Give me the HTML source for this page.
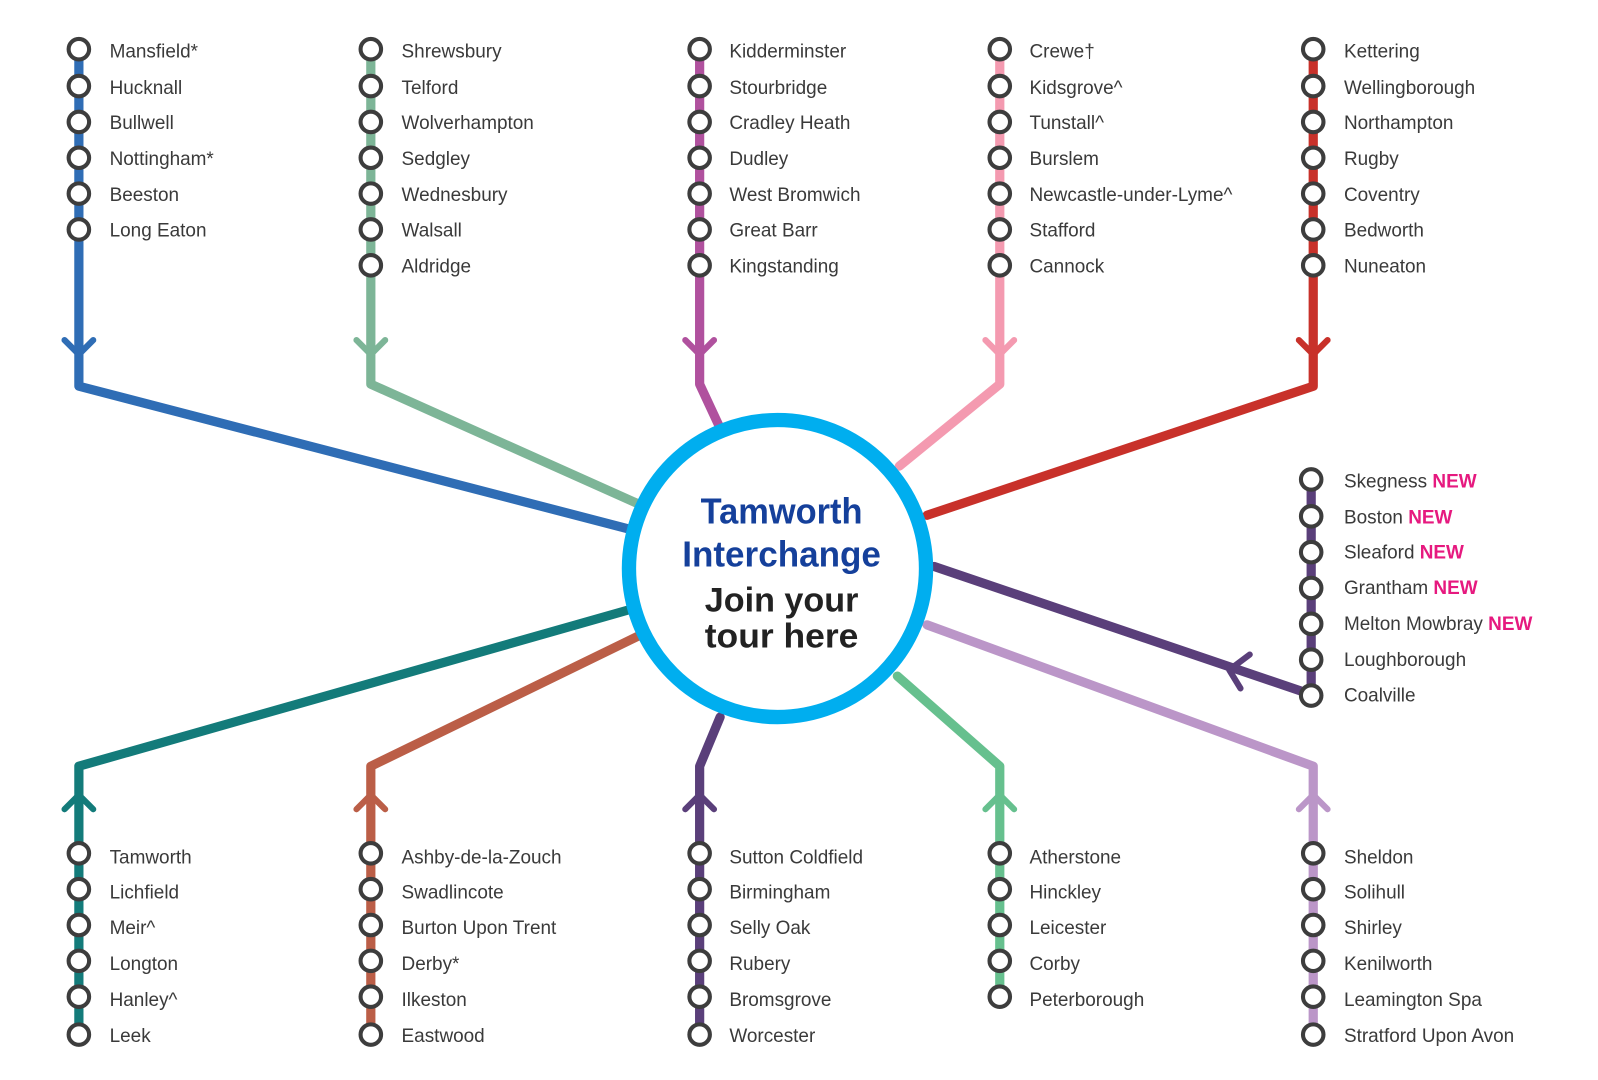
<!DOCTYPE html>
<html><head><meta charset="utf-8"><style>
html,body{margin:0;padding:0;background:#fff;}
svg{display:block;}
text{font-family:"Liberation Sans",sans-serif;}
.st{font-size:18.5px;fill:#3a3a3a;}
.n{fill:#e6197f;font-weight:bold;}
</style></head><body>
<svg width="1598" height="1080" viewBox="0 0 1560 1054.3" xmlns="http://www.w3.org/2000/svg">
<defs>
<g id="c7">
<circle cx="0" cy="48" r="10"/><circle cx="0" cy="84" r="10"/><circle cx="0" cy="119" r="10"/><circle cx="0" cy="154" r="10"/><circle cx="0" cy="189" r="10"/><circle cx="0" cy="224" r="10"/><circle cx="0" cy="259" r="10"/>
</g>
<g id="b6">
<circle cx="0" cy="833" r="10"/><circle cx="0" cy="868" r="10"/><circle cx="0" cy="903" r="10"/><circle cx="0" cy="938" r="10"/><circle cx="0" cy="973" r="10"/>
</g>
</defs>
<g fill="none" stroke-width="9" stroke-linejoin="round" stroke-linecap="round">
<polyline stroke="#2f6db5" points="77,48 77,377 620,518"/>
<polyline stroke="#7db597" points="362,48 362,375 630,495"/>
<polyline stroke="#b0519e" points="683,48 683,375 703,418"/>
<polyline stroke="#f49ab0" points="976,48 976,375 878,455"/>
<polyline stroke="#c8312a" points="1282,48 1282,377 905,503"/>
<polyline stroke="#5a3f7a" points="1280,468 1280,678 912,553"/>
<polyline stroke="#bb96c8" points="905,610 1282,748 1282,1010"/>
<polyline stroke="#137b7a" points="615,595 77,748 77,1010"/>
<polyline stroke="#bb5e47" points="625,620 362,748 362,1010"/>
<polyline stroke="#5a3f7a" points="703,700 683,748 683,1010"/>
<polyline stroke="#66c08e" points="876,660 976,748 976,973"/>
<g stroke-width="6">
<polyline stroke="#2f6db5" points="63,332 77,346 91,332"/>
<polyline stroke="#7db597" points="348,332 362,346 376,332"/>
<polyline stroke="#b0519e" points="669,332 683,346 697,332"/>
<polyline stroke="#f49ab0" points="962,332 976,346 990,332"/>
<polyline stroke="#c8312a" points="1268,332 1282,346 1296,332"/>
<polyline stroke="#5a3f7a" points="1220,639 1200,654 1211,672"/>
<polyline stroke="#137b7a" points="63,790 77,776 91,790"/>
<polyline stroke="#bb5e47" points="348,790 362,776 376,790"/>
<polyline stroke="#5a3f7a" points="669,790 683,776 697,790"/>
<polyline stroke="#66c08e" points="962,790 976,776 990,790"/>
<polyline stroke="#bb96c8" points="1268,790 1282,776 1296,790"/>
</g>
</g>
<circle cx="759" cy="555" r="145" fill="#fff" stroke="#00aeef" stroke-width="14"/>
<g text-anchor="middle" font-weight="bold">
<text x="763" y="511" font-size="35" fill="#15409b" textLength="158" lengthAdjust="spacingAndGlyphs">Tamworth</text>
<text x="763" y="553" font-size="35" fill="#15409b" textLength="194" lengthAdjust="spacingAndGlyphs">Interchange</text>
<text x="763" y="597" font-size="33" fill="#222" textLength="150" lengthAdjust="spacingAndGlyphs">Join your</text>
<text x="763" y="632" font-size="33" fill="#222" textLength="150" lengthAdjust="spacingAndGlyphs">tour here</text>
</g>
<g fill="#fff" stroke="#3d3d3d" stroke-width="4">
<circle cx="77" cy="48" r="10"/><circle cx="77" cy="84" r="10"/><circle cx="77" cy="119" r="10"/><circle cx="77" cy="154" r="10"/><circle cx="77" cy="189" r="10"/><circle cx="77" cy="224" r="10"/>
<use href="#c7" x="362"/><use href="#c7" x="683"/><use href="#c7" x="976"/><use href="#c7" x="1282"/>
<use href="#c7" x="1280" y="420"/>
<circle cx="77" cy="1010" r="10"/><circle cx="362" cy="1010" r="10"/><circle cx="683" cy="1010" r="10"/><circle cx="1282" cy="1010" r="10"/>
<use href="#b6" x="77"/><use href="#b6" x="362"/><use href="#b6" x="683"/><use href="#b6" x="976"/><use href="#b6" x="1282"/>
</g>
<g class="st">
<text x="107" y="56">Mansfield*</text><text x="107" y="92">Hucknall</text><text x="107" y="126">Bullwell</text><text x="107" y="161">Nottingham*</text><text x="107" y="196">Beeston</text><text x="107" y="231">Long Eaton</text>
<text x="392" y="56">Shrewsbury</text><text x="392" y="92">Telford</text><text x="392" y="126">Wolverhampton</text><text x="392" y="161">Sedgley</text><text x="392" y="196">Wednesbury</text><text x="392" y="231">Walsall</text><text x="392" y="266">Aldridge</text>
<text x="712" y="56">Kidderminster</text><text x="712" y="92">Stourbridge</text><text x="712" y="126">Cradley Heath</text><text x="712" y="161">Dudley</text><text x="712" y="196">West Bromwich</text><text x="712" y="231">Great Barr</text><text x="712" y="266">Kingstanding</text>
<text x="1005" y="56">Crewe†</text><text x="1005" y="92">Kidsgrove^</text><text x="1005" y="126">Tunstall^</text><text x="1005" y="161">Burslem</text><text x="1005" y="196">Newcastle-under-Lyme^</text><text x="1005" y="231">Stafford</text><text x="1005" y="266">Cannock</text>
<text x="1312" y="56">Kettering</text><text x="1312" y="92">Wellingborough</text><text x="1312" y="126">Northampton</text><text x="1312" y="161">Rugby</text><text x="1312" y="196">Coventry</text><text x="1312" y="231">Bedworth</text><text x="1312" y="266">Nuneaton</text>
<text x="1312" y="476">Skegness <tspan class="n">NEW</tspan></text><text x="1312" y="511">Boston <tspan class="n">NEW</tspan></text><text x="1312" y="545">Sleaford <tspan class="n">NEW</tspan></text><text x="1312" y="580">Grantham <tspan class="n">NEW</tspan></text><text x="1312" y="615">Melton Mowbray <tspan class="n">NEW</tspan></text><text x="1312" y="650">Loughborough</text><text x="1312" y="685">Coalville</text>
<text x="107" y="843">Tamworth</text><text x="107" y="877">Lichfield</text><text x="107" y="912">Meir^</text><text x="107" y="947">Longton</text><text x="107" y="982">Hanley^</text><text x="107" y="1017">Leek</text>
<text x="392" y="843">Ashby-de-la-Zouch</text><text x="392" y="877">Swadlincote</text><text x="392" y="912">Burton Upon Trent</text><text x="392" y="947">Derby*</text><text x="392" y="982">Ilkeston</text><text x="392" y="1017">Eastwood</text>
<text x="712" y="843">Sutton Coldfield</text><text x="712" y="877">Birmingham</text><text x="712" y="912">Selly Oak</text><text x="712" y="947">Rubery</text><text x="712" y="982">Bromsgrove</text><text x="712" y="1017">Worcester</text>
<text x="1005" y="843">Atherstone</text><text x="1005" y="877">Hinckley</text><text x="1005" y="912">Leicester</text><text x="1005" y="947">Corby</text><text x="1005" y="982">Peterborough</text>
<text x="1312" y="843">Sheldon</text><text x="1312" y="877">Solihull</text><text x="1312" y="912">Shirley</text><text x="1312" y="947">Kenilworth</text><text x="1312" y="982">Leamington Spa</text><text x="1312" y="1017">Stratford Upon Avon</text>
</g>
</svg>
</body></html>
